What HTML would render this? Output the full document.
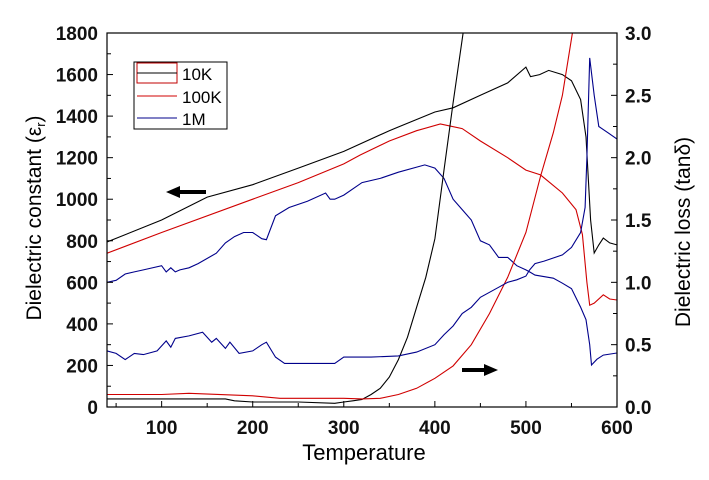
<!DOCTYPE html>
<html><head><meta charset="utf-8">
<style>
body{margin:0;background:#fff;}
svg{display:block;font-family:"Liberation Sans",Arial,sans-serif;}
.tk{font-weight:bold;font-size:19px;fill:#111;}
</style></head>
<body>
<svg id="chart" width="709" height="480" viewBox="0 0 709 480" xmlns="http://www.w3.org/2000/svg">
<rect width="709" height="480" fill="#fff"/>
<g id="plot"></g>
<g id="axes"></g>
<text x="364" y="460" font-size="22" text-anchor="middle" fill="#000">Temperature</text>
<text transform="translate(41,218) rotate(-90)" font-size="21" text-anchor="middle" fill="#000">Dielectric constant (ε<tspan font-size="13" dy="4">r</tspan><tspan dy="-4">)</tspan></text>
<text transform="translate(690,232) rotate(-90)" font-size="21" text-anchor="middle" fill="#000">Dielectric loss (tanδ)</text>
<g>
<rect x="134" y="62" width="93" height="67" fill="#fff" stroke="#000" stroke-width="1"/>
<rect x="137" y="63" width="40" height="20" fill="none" stroke="#c00000" stroke-width="1"/>
<line x1="137" y1="73" x2="177" y2="73" stroke="#000"/>
<text x="182" y="80" font-size="17">10K</text>
<line x1="137" y1="96" x2="177" y2="96" stroke="#d00000"/>
<text x="182" y="103" font-size="17">100K</text>
<line x1="137" y1="118" x2="177" y2="118" stroke="#00008b"/>
<text x="182" y="125" font-size="17">1M</text>
</g>
<g><line x1="178" y1="192" x2="206" y2="192" stroke="#000" stroke-width="4"/><polygon points="166,192 180,186 180,198" fill="#000"/></g>
<g><line x1="462" y1="370" x2="486" y2="370" stroke="#000" stroke-width="4"/><polygon points="498,370 484,364 484,376" fill="#000"/></g>
</svg>
<script>
const tEps10k=[40,100,150,200,250,300,350,400,420,450,480,500,505,515,525,540,550,560,566,571,575,580,585,592,600];
const eps10k=[794,900,1010,1070,1150,1230,1330,1420,1440,1500,1560,1636,1590,1600,1620,1600,1570,1480,1300,900,741,780,813,790,780];
const tEps100k=[40,100,200,250,300,318,350,380,406,430,450,480,500,516,540,555,562,567,570,575,585,592,600];
const eps100k=[740,840,1000,1080,1170,1213,1280,1330,1362,1340,1280,1200,1140,1117,1030,950,830,600,490,500,540,520,515];
const tEps1m=[40,50,60,70,80,100,105,110,115,120,130,140,160,170,180,190,200,210,215,225,240,260,280,285,290,300,320,340,360,389,400,410,420,430,440,450,460,470,480,490,500,504,510,530,540,550,560,566,570,572,578,585,600];
const eps1m=[600,610,640,650,660,680,650,670,650,660,670,690,740,790,820,840,840,810,805,920,960,990,1030,1000,1000,1020,1080,1100,1130,1165,1150,1100,1000,950,900,800,780,720,720,680,660,650,635,620,596,570,481,420,300,202,230,250,260];
const tLoss10k=[40,100,170,180,200,250,290,300,310,320,330,340,350,360,370,380,390,400,410,420,431];
const loss10k=[0.065,0.065,0.065,0.05,0.04,0.04,0.03,0.04,0.05,0.06,0.1,0.15,0.24,0.38,0.56,0.8,1.04,1.35,1.9,2.44,3.0];
const tLoss100k=[40,100,130,200,230,300,320,340,360,380,400,420,440,460,480,500,516,530,540,551];
const loss100k=[0.1,0.1,0.11,0.09,0.07,0.07,0.065,0.07,0.1,0.15,0.23,0.33,0.5,0.75,1.04,1.4,1.85,2.2,2.5,3.0];
const tLoss1m=[40,50,60,70,80,95,105,110,115,130,145,155,160,170,175,185,200,210,215,225,235,260,290,300,330,360,380,400,410,420,430,440,450,460,470,480,490,500,504,510,520,540,550,560,565,567,570,575,580,590,600];
const loss1m=[0.45,0.43,0.38,0.43,0.42,0.45,0.53,0.48,0.55,0.57,0.6,0.52,0.55,0.47,0.52,0.43,0.45,0.5,0.52,0.4,0.35,0.35,0.35,0.4,0.4,0.41,0.44,0.5,0.58,0.65,0.75,0.8,0.88,0.92,0.96,1.0,1.02,1.05,1.1,1.15,1.17,1.22,1.28,1.4,1.6,2.0,2.8,2.5,2.25,2.2,2.15];
const xTicks=[100,200,300,400,500,600];
const yLeftTicks=[0,200,400,600,800,1000,1200,1400,1600,1800];
const yRightTicks=["0.0","0.5","1.0","1.5","2.0","2.5","3.0"];

const X0=107,X1=617,Y0=407,Y1=33;
const xs=t=>X0+(t-40)/(600-40)*(X1-X0);
const yl=v=>Y0-v/1800*(Y0-Y1);
const yr=v=>Y0-v/3*(Y0-Y1);
const NS="http://www.w3.org/2000/svg";
const plot=document.getElementById('plot'),axes=document.getElementById('axes');
function mk(tag,attrs,parent){const e=document.createElementNS(NS,tag);for(const k in attrs)e.setAttribute(k,attrs[k]);parent.appendChild(e);return e;}
const cp=mk('clipPath',{id:'clip'},plot);mk('rect',{x:X0,y:Y1,width:X1-X0,height:Y0-Y1},cp);
function series(ts,vs,ys,color,name){
  const d=ts.map((t,i)=>(i?'L':'M')+xs(t).toFixed(1)+','+ys(vs[i]).toFixed(1)).join('');
  const p=mk('path',{d:d,fill:'none',stroke:color,'stroke-width':1.1,'clip-path':'url(#clip)'},plot);
  
  
}
series(tEps10k,eps10k,yl,'#000','eps-10k-line');
series(tEps100k,eps100k,yl,'#d00000','eps-100k-line');
series(tEps1m,eps1m,yl,'#00008b','eps-1m-line');
series(tLoss10k,loss10k,yr,'#000','loss-10k-line');
series(tLoss100k,loss100k,yr,'#d00000','loss-100k-line');
series(tLoss1m,loss1m,yr,'#00008b','loss-1m-line');
mk('rect',{x:X0,y:Y1,width:X1-X0,height:Y0-Y1,fill:'none',stroke:'#000','stroke-width':1.2},axes);
for(let t=50;t<=600;t+=50){const x=xs(t);const L=(t%100===0)?6:4;mk('line',{x1:x,y1:Y0,x2:x,y2:Y0-L,stroke:'#000'},axes);}
xTicks.forEach(t=>{const e=mk('text',{x:xs(t),y:Y0+27,class:'tk','text-anchor':'middle'},axes);e.textContent=t;
  
  });
for(let v=0;v<=1800;v+=100){const y=yl(v);const L=(v%200===0)?6:4;mk('line',{x1:X0,y1:y,x2:X0+L,y2:y,stroke:'#000'},axes);}
yLeftTicks.forEach(v=>{const e=mk('text',{x:X0-9,y:yl(v)+7,class:'tk','text-anchor':'end'},axes);e.textContent=v;
  
  });
for(let v=0;v<=3.001;v+=0.25){const y=yr(v);const L=(Math.round(v*4)%2===0)?6:4;mk('line',{x1:X1,y1:y,x2:X1-L,y2:y,stroke:'#000'},axes);}
yRightTicks.forEach(s=>{const e=mk('text',{x:X1+8,y:yr(parseFloat(s))+7,class:'tk','text-anchor':'start'},axes);e.textContent=s;
  
  });
</script>
</body></html>
